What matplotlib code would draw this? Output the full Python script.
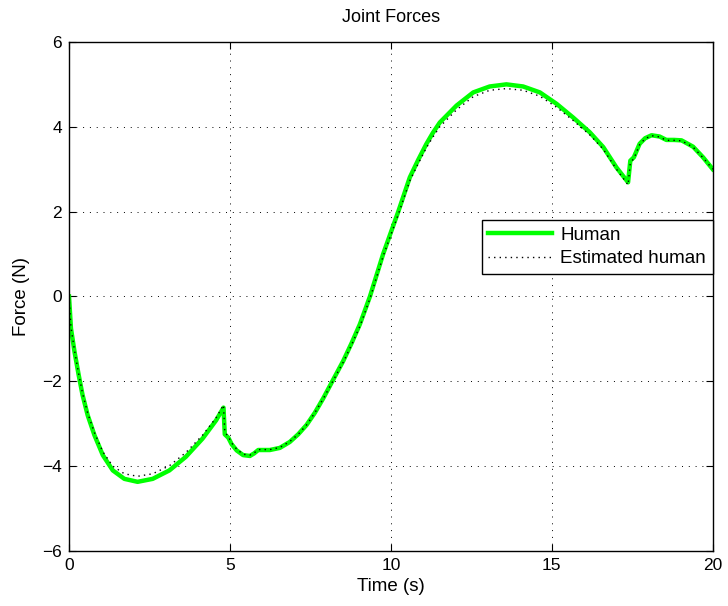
import numpy as np
import matplotlib
matplotlib.use("Agg")
import matplotlib.pyplot as plt

plt.rcParams['font.family'] = ['Liberation Sans', 'DejaVu Sans']

# values
t_human = [0, 0.06, 0.17, 0.3, 0.42, 0.58, 0.79, 1.05, 1.36, 1.72, 2.13, 2.6, 3.12,
           3.63, 4.15, 4.57, 4.8, 4.84, 4.95, 5.05, 5.21, 5.41, 5.62, 5.75, 5.88,
           6.24, 6.55, 6.86, 7.12, 7.38, 7.64, 7.9, 8.16, 8.52, 8.78, 9.04, 9.35,
           9.76, 10.23, 10.59, 10.85, 11.1, 11.3, 11.52, 12.04, 12.56, 13.07, 13.59,
           14.11, 14.63, 15.15, 15.66, 16.18, 16.6, 17.01, 17.37, 17.44, 17.55,
           17.73, 17.9, 18.1, 18.35, 18.56, 18.8, 19.03, 19.39, 19.7, 20.0]
f_human = [0, -0.75, -1.3, -1.85, -2.32, -2.8, -3.27, -3.74, -4.1, -4.3, -4.37, -4.3, -4.1,
           -3.78, -3.35, -2.92, -2.62, -3.25, -3.33, -3.48, -3.63, -3.74, -3.76, -3.7, -3.62,
           -3.62, -3.57, -3.43, -3.25, -3.03, -2.74, -2.4, -2.03, -1.52, -1.1, -0.65, 0.0,
           1.0, 2.0, 2.81, 3.22, 3.59, 3.85, 4.1, 4.5, 4.81, 4.95, 5.0,
           4.95, 4.81, 4.54, 4.22, 3.87, 3.52, 3.04, 2.69, 3.2, 3.28,
           3.6, 3.73, 3.8, 3.77, 3.69, 3.69, 3.68, 3.53, 3.28, 3.0]

t_est = [0, 0.06, 0.17, 0.3, 0.42, 0.58, 0.79, 1.05, 1.36, 1.72, 2.13, 2.6, 3.12,
         3.63, 4.15, 4.57, 4.8, 4.84, 4.95, 5.05, 5.21, 5.41, 5.62, 5.75, 5.88,
         6.24, 6.55, 6.86, 7.12, 7.38, 7.64, 7.9, 8.16, 8.52, 8.78, 9.04, 9.35,
         9.76, 10.23, 10.59, 10.85, 11.1, 11.3, 11.52, 12.04, 12.56, 13.07, 13.59,
         14.11, 14.63, 15.15, 15.66, 16.18, 16.6, 17.01, 17.37, 17.44, 17.55,
         17.73, 17.9, 18.1, 18.35, 18.56, 18.8, 19.03, 19.39, 19.7, 20.0]
f_est = [0, -0.72, -1.27, -1.82, -2.28, -2.75, -3.21, -3.66, -4.0, -4.18, -4.24, -4.18, -3.99,
         -3.68, -3.27, -2.86, -2.56, -3.2, -3.3, -3.45, -3.6, -3.72, -3.74, -3.69, -3.61,
         -3.61, -3.56, -3.42, -3.25, -3.03, -2.74, -2.41, -2.05, -1.55, -1.14, -0.7, -0.05,
         0.95, 1.93, 2.73, 3.13, 3.5, 3.75, 4.0, 4.4, 4.71, 4.86, 4.9,
         4.86, 4.72, 4.46, 4.15, 3.81, 3.47, 3.0, 2.63, 3.15, 3.25,
         3.58, 3.72, 3.79, 3.76, 3.68, 3.68, 3.67, 3.52, 3.27, 3.0]

fig = plt.figure(figsize=(7.28, 6.06), dpi=100)
ax = fig.add_axes([0.0948, 0.0908, 0.8842, 0.84])

ax.plot(t_human, f_human, color='#00ff00', linewidth=3.2, label='Human')
ax.plot(t_est, f_est, color='black', linestyle=(0, (1, 3)), linewidth=1.0,
        label='Estimated human')

ax.set_xlim(0, 20)
ax.set_ylim(-6, 6)
ax.set_xticks([0, 5, 10, 15, 20])
ax.set_yticks([-6, -4, -2, 0, 2, 4, 6])
ax.set_yticklabels(['\u22126', '\u22124', '\u22122', '0', '2', '4', '6'])
ax.grid(True, color='black', linestyle=(0, (1, 6)), linewidth=0.7)
ax.tick_params(direction='in', top=True, right=True, length=5, labelsize=12.5, pad=5)
for s in ax.spines.values():
    s.set_linewidth(1.0)

ax.set_title('Joint Forces', fontsize=13, pad=14)
ax.set_xlabel('Time (s)', fontsize=13.5, labelpad=4)
ax.set_ylabel('Force (N)', fontsize=13.5, labelpad=9)

leg = ax.legend(loc='upper right', bbox_to_anchor=(1.0, 0.65), borderaxespad=0,
                fontsize=13.5, fancybox=False, edgecolor='black', framealpha=1,
                handlelength=3.4, handletextpad=0.45, labelspacing=0.35,
                borderpad=0.35)
leg.get_frame().set_linewidth(1.0)

fig.savefig('out.png', dpi=100)
